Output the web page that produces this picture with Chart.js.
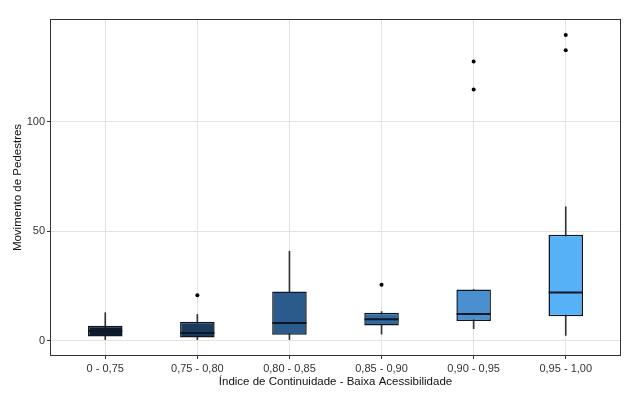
<!DOCTYPE html>
<html>
<head>
<meta charset="utf-8">
<script src="https://cdn.jsdelivr.net/npm/chart.js@4/dist/chart.umd.min.js"></script>
<style>
    html, body { margin: 0; padding: 0; background: #fff; }
    #wrap { width: 640px; height: 399px; }
</style>
</head>
<body>
<div id="wrap"><canvas id="chart" width="640" height="399"></canvas></div>
<script>
// values
const categories = ['0 - 0,75', '0,75 - 0,80', '0,80 - 0,85', '0,85 - 0,90', '0,90 - 0,95', '0,95 - 1,00'];
const whiskerLow = [0.5, 0.5, 0.5, 3.0, 5.5, 2.4];
const lowerQuartile = [1.9, 1.5, 2.7, 6.9, 9.0, 11.2];
const medians = [4.4, 3.5, 8.1, 9.8, 12.2, 22.0];
const upperQuartile = [6.8, 8.7, 22.5, 12.8, 23.4, 48.4];
const whiskerHigh = [12.8, 12.0, 40.9, 13.3, 23.4, 61.2];
// outliers per category (index into categories)
const outlierCategory = [1, 3, 4, 4, 5, 5];
const outlierValue = [20.8, 25.6, 114.8, 127.6, 132.7, 139.7];
const yTicks = [0, 50, 100];

const fills = ['#0f1c2d', '#1c3a5c', '#2b5a8c', '#336a9b', '#4a90d0', '#56b1f7'];
const boxEdge = '#0c1624';
const font = 'Liberation Sans, Arial, sans-serif';

(function () {
    // x positions: category i sits at i + 1 on a linear axis (ggplot style padding)
    const pos = (i) => i + 1;

    // draws the panel frame around the plot area
    const panelFrame = {
        id: 'panelFrame',
        afterDraw(chart) {
            const a = chart.chartArea;
            const ctx = chart.ctx;
            ctx.save();
            ctx.strokeStyle = '#333';
            ctx.lineWidth = 1;
            ctx.strokeRect(Math.round(a.left) + 0.5, Math.round(a.top) + 0.5,
                Math.round(a.right - a.left) - 1, Math.round(a.bottom - a.top) - 1);
            ctx.restore();
        },
    };

    new Chart(document.getElementById('chart'), {
        type: 'bar',
        data: {
            datasets: [
                {
                    label: 'whiskers',
                    data: categories.map((_, i) => ({ x: pos(i), y: [whiskerLow[i], whiskerHigh[i]] })),
                    backgroundColor: '#333',
                    borderWidth: 0,
                    barThickness: 1,
                    grouped: false,
                    order: 3,
                },
                {
                    label: 'boxes',
                    data: categories.map((_, i) => ({ x: pos(i), y: [lowerQuartile[i], upperQuartile[i]] })),
                    backgroundColor: fills,
                    borderColor: boxEdge,
                    borderWidth: 1.5,
                    borderSkipped: false,
                    categoryPercentage: 1,
                    barPercentage: 0.375,
                    grouped: false,
                    order: 2,
                },
                {
                    type: 'scatter',
                    label: 'medians',
                    data: categories.map((_, i) => ({ x: pos(i), y: medians[i] })),
                    pointStyle: 'line',
                    pointRadius: 17,
                    borderColor: boxEdge,
                    borderWidth: 2,
                    order: 1,
                },
                {
                    type: 'scatter',
                    label: 'outliers',
                    data: outlierValue.map((v, k) => ({ x: pos(outlierCategory[k]), y: v })),
                    pointStyle: 'circle',
                    pointRadius: 2,
                    backgroundColor: '#000',
                    borderWidth: 0,
                    order: 0,
                },
            ],
        },
        options: {
            responsive: false,
            animation: false,
            layout: { padding: { top: 17, right: 9, left: 0, bottom: 0 } },
            plugins: {
                legend: { display: false },
                tooltip: { enabled: false },
            },
            scales: {
                x: {
                    type: 'linear',
                    min: 0.4,
                    max: 6.6,
                    offset: false,
                    afterBuildTicks(scale) {
                        scale.ticks = categories.map((_, i) => ({ value: pos(i) }));
                    },
                    afterFit(scale) { scale.height = 43; },
                    border: { display: false },
                    grid: { offset: false, color: '#e3e3e3', tickColor: '#333', tickLength: 3, lineWidth: 1 },
                    ticks: {
                        padding: 3,
                        color: '#333',
                        font: { family: font, size: 11 },
                        maxRotation: 0,
                        callback: (v) => categories[Math.round(v) - 1],
                    },
                    title: {
                        display: true,
                        text: 'Índice de Continuidade - Baixa Acessibilidade',
                        color: '#111',
                        font: { family: font, size: 11.5 },
                        padding: { top: 0, bottom: 10 },
                    },
                },
                y: {
                    type: 'linear',
                    min: -7,
                    max: 147,
                    afterBuildTicks(scale) {
                        scale.ticks = yTicks.map((v) => ({ value: v }));
                    },
                    afterFit(scale) { scale.width = 50; },
                    border: { display: false },
                    grid: { color: '#e3e3e3', tickColor: '#333', tickLength: 3, lineWidth: 1 },
                    ticks: {
                        padding: 2,
                        color: '#333',
                        font: { family: font, size: 11 },
                    },
                    title: {
                        display: true,
                        text: 'Movimento de Pedestres',
                        color: '#111',
                        font: { family: font, size: 11.5 },
                        padding: { top: 11, bottom: 0 },
                    },
                },
            },
        },
        plugins: [panelFrame],
    });
})();
</script>
</body>
</html>
